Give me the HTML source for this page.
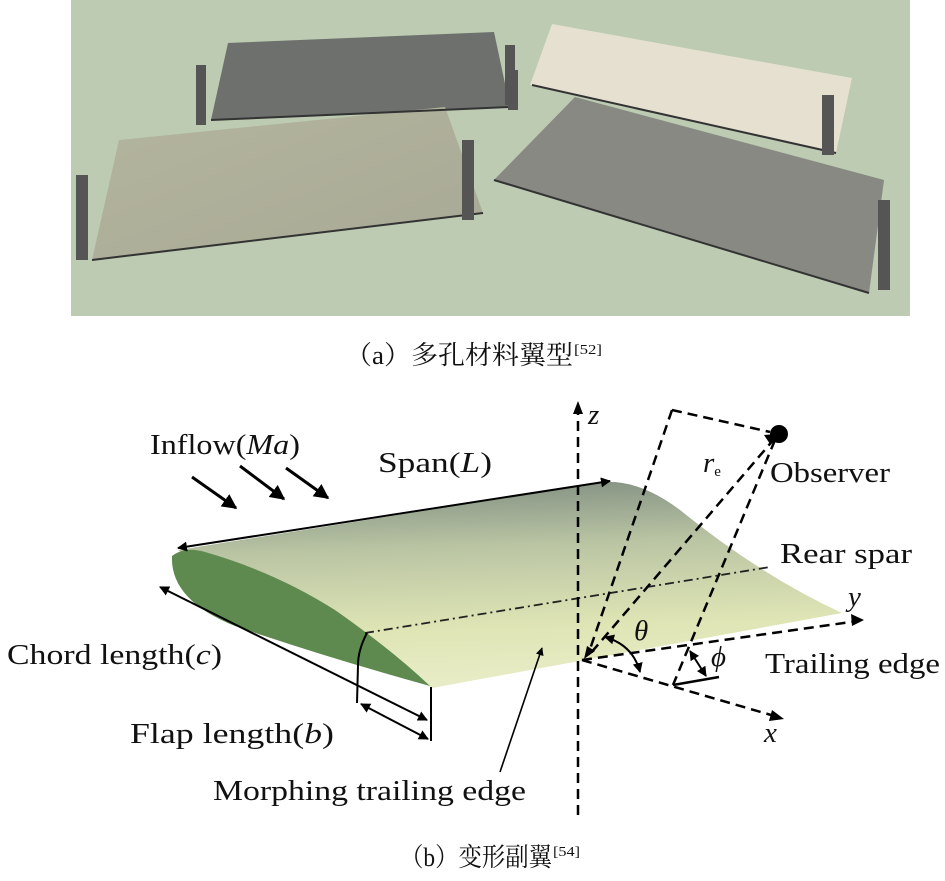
<!DOCTYPE html>
<html><head><meta charset="utf-8"><style>
html,body{margin:0;padding:0;background:#fff;}
svg{display:block;}
text{font-family:"Liberation Serif","Noto Serif CJK SC",serif;fill:#111;}
</style></head><body>
<svg width="945" height="881" viewBox="0 0 945 881" xmlns="http://www.w3.org/2000/svg">
<defs>
<marker id="ah" viewBox="0 0 10 10" refX="9" refY="5" markerWidth="5" markerHeight="5" orient="auto-start-reverse"><path d="M0,0 L10,5 L0,10 z" fill="#000"/></marker>
<linearGradient id="wing" x1="0" y1="0" x2="0.1" y2="1">
<stop offset="0" stop-color="#7d8b7f"/><stop offset="0.35" stop-color="#b9c4a3"/><stop offset="0.75" stop-color="#dfe5b5"/><stop offset="1" stop-color="#e8ecc6"/></linearGradient>
<linearGradient id="panBL" x1="0" y1="0" x2="1" y2="1"><stop offset="0" stop-color="#b4b59e"/><stop offset="1" stop-color="#a8a995"/></linearGradient>
</defs>
<rect x="71" y="0" width="839" height="316" fill="#bccbb2"/>
<polygon points="228,43 494,32 510,107 211,120" fill="#6d706c"/>
<polygon points="552,24 852,78 836,153 530,85" fill="#e5e0cf"/>
<polygon points="119,140 445,107 483,213 92,260" fill="url(#panBL)"/>
<polygon points="575,97 884,180 869,293 494,180" fill="#888983"/>
<g stroke="#333" stroke-width="2" fill="none">
<line x1="211" y1="120" x2="510" y2="107"/><line x1="92" y1="260" x2="483" y2="213"/><line x1="494" y1="180" x2="869" y2="293"/><line x1="532" y1="85" x2="836" y2="153"/>
</g>
<g fill="#555"><rect x="196" y="65" width="10" height="60"/><rect x="505" y="45" width="10" height="60"/><rect x="76" y="175" width="12" height="85"/><rect x="462" y="140" width="12" height="80"/><rect x="822" y="95" width="12" height="60"/><rect x="878" y="200" width="12" height="90"/><rect x="508" y="70" width="10" height="40"/></g>
<text x="345" y="364" font-size="26" textLength="228" lengthAdjust="spacingAndGlyphs">（a）多孔材料翼型</text><text x="574" y="354" font-size="14" textLength="28" lengthAdjust="spacingAndGlyphs">[52]</text>
<path d="M178,550 L605,482 Q640,480 680,510 Q760,575 842,613 L432,688 Z" fill="url(#wing)"/>
<path d="M172,556 Q185,546 205,552 Q275,572 335,610 Q392,650 430,686 Q325,657 235,626 Q170,600 172,556 Z" fill="#5e8a4f"/>
<line x1="365" y1="633" x2="770" y2="567" stroke="#222" stroke-width="1.8" stroke-dasharray="9,4,2,4"/>
<g stroke="#000" stroke-width="2" fill="none">
<line x1="178" y1="548" x2="610" y2="481" marker-start="url(#ah)" marker-end="url(#ah)"/>
<line x1="192" y1="477" x2="236" y2="508" stroke-width="3" marker-end="url(#ah)"/>
<line x1="240" y1="466" x2="284" y2="499" stroke-width="3" marker-end="url(#ah)"/>
<line x1="286" y1="468" x2="328" y2="498" stroke-width="3" marker-end="url(#ah)"/>
<line x1="160" y1="587" x2="427" y2="720" marker-start="url(#ah)" marker-end="url(#ah)"/>
<line x1="361" y1="704" x2="428" y2="739" marker-start="url(#ah)" marker-end="url(#ah)"/>
<path d="M367,633 Q358,650 358,665 L357,703" />
<line x1="431" y1="687" x2="431" y2="741"/>
<line x1="500" y1="772" x2="542" y2="648" stroke-width="1.6" marker-end="url(#ah)"/>
</g>
<g stroke="#000" stroke-width="2.5" fill="none" stroke-dasharray="10,6">
<line x1="578" y1="815" x2="578" y2="405"/>
<line x1="582" y1="660" x2="858" y2="621"/>
<line x1="582" y1="660" x2="778" y2="717"/>
<path d="M672,410 L770,432"/>
<line x1="672" y1="410" x2="588" y2="655"/>
<line x1="775" y1="438" x2="590" y2="654"/>
<line x1="775" y1="440" x2="673" y2="685"/>
</g>
<g fill="#000"><path d="M578,401 l-5,13 h10 z"/><path d="M864,620 l-13,-6 l1,12 z"/><path d="M784,719 l-12,-9 l-3,11 z"/><path d="M584,659 l3,-13 l8,5 z"/><path d="M776,434 l-12,1 l6,9 z"/></g>
<circle cx="779" cy="434" r="9" fill="#000"/>
<g stroke="#000" stroke-width="2" fill="none">
<path d="M605,637 Q633,645 640,672" marker-start="url(#ah)" marker-end="url(#ah)"/>
<line x1="690" y1="651" x2="706" y2="676" marker-start="url(#ah)" marker-end="url(#ah)"/>
<line x1="673" y1="685" x2="719" y2="677" stroke-width="2.5"/>
</g>
<g font-size="29">
<text x="150" y="454" textLength="150" lengthAdjust="spacingAndGlyphs">Inflow(<tspan font-style="italic">Ma</tspan>)</text>
<text x="378" y="472" textLength="114" lengthAdjust="spacingAndGlyphs">Span(<tspan font-style="italic">L</tspan>)</text>
<text x="7" y="664" textLength="215" lengthAdjust="spacingAndGlyphs">Chord length(<tspan font-style="italic">c</tspan>)</text>
<text x="130" y="743" textLength="204" lengthAdjust="spacingAndGlyphs">Flap length(<tspan font-style="italic">b</tspan>)</text>
<text x="213" y="800" textLength="313" lengthAdjust="spacingAndGlyphs">Morphing trailing edge</text>
<text x="770" y="482" textLength="120" lengthAdjust="spacingAndGlyphs">Observer</text>
<text x="780" y="563" textLength="132" lengthAdjust="spacingAndGlyphs">Rear spar</text>
<text x="765" y="673" textLength="175" lengthAdjust="spacingAndGlyphs">Trailing edge</text>
<text x="588" y="424" font-style="italic">z</text>
<text x="848" y="606" font-style="italic">y</text>
<text x="764" y="742" font-style="italic">x</text>
<text x="634" y="640" font-style="italic">θ</text>
<text x="711" y="666" font-style="italic">ϕ</text>
<text x="703" y="472" font-style="italic">r<tspan font-size="15" font-style="normal" dy="4">e</tspan></text>
</g>
<text x="400" y="866" font-size="26" textLength="152" lengthAdjust="spacingAndGlyphs">（b）变形副翼</text><text x="553" y="856" font-size="14" textLength="27" lengthAdjust="spacingAndGlyphs">[54]</text>
</svg>
</body></html>
